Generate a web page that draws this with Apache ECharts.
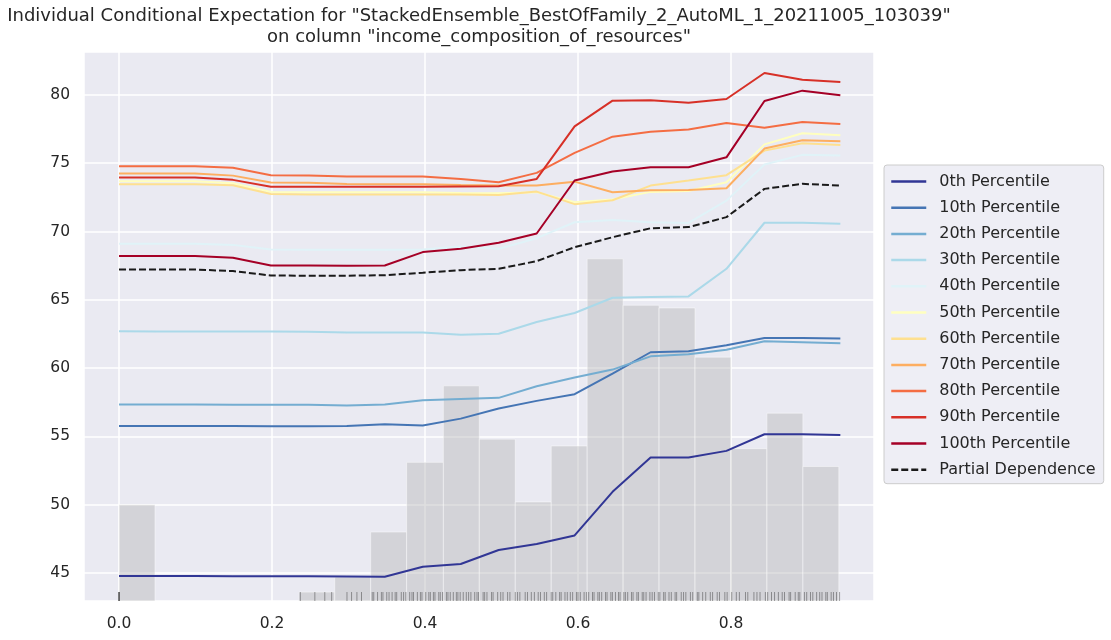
<!DOCTYPE html>
<html>
<head>
    <meta charset="utf-8">
    <title>ICE plot</title>
    <script src="https://cdn.jsdelivr.net/npm/echarts@6/dist/echarts.min.js"></script>
    <style>
        body { margin: 0; background: #fff; }
        #chart { width: 1111px; height: 640px; }
    </style>
</head>
<body>
<div id="chart"></div>

<script type="text/javascript">
// grid points of the feature (x)
var xGrid = [0, 0.0496, 0.0993, 0.1489, 0.1985, 0.2482, 0.2978, 0.3474, 0.3971, 0.4467,
             0.4963, 0.5460, 0.5956, 0.6452, 0.6949, 0.7445, 0.7941, 0.8438, 0.8934, 0.9430];

var seriesNames = ['0th Percentile', '10th Percentile', '20th Percentile', '30th Percentile',
    '40th Percentile', '50th Percentile', '60th Percentile', '70th Percentile',
    '80th Percentile', '90th Percentile', '100th Percentile', 'Partial Dependence'];

var p0   = [44.78, 44.78, 44.78, 44.77, 44.77, 44.76, 44.75, 44.73, 45.46, 45.66, 46.68, 47.12, 47.75, 50.94, 53.46, 53.46, 53.94, 55.16, 55.16, 55.11];
var p10  = [55.77, 55.77, 55.77, 55.76, 55.75, 55.75, 55.77, 55.89, 55.80, 56.30, 57.04, 57.60, 58.09, 59.60, 61.16, 61.23, 61.67, 62.20, 62.20, 62.16];
var p20  = [57.33, 57.33, 57.33, 57.32, 57.32, 57.31, 57.26, 57.33, 57.65, 57.74, 57.82, 58.67, 59.31, 59.89, 60.86, 61.01, 61.35, 61.96, 61.89, 61.81];
var p30  = [62.69, 62.68, 62.68, 62.67, 62.67, 62.66, 62.60, 62.60, 62.60, 62.45, 62.52, 63.37, 64.03, 65.15, 65.20, 65.25, 67.27, 70.64, 70.64, 70.56];
var p40  = [69.10, 69.10, 69.10, 69.02, 68.69, 68.66, 68.66, 68.66, 68.69, 68.90, 68.73, 69.51, 70.68, 70.85, 70.68, 70.63, 72.26, 74.90, 75.61, 75.56];
var p50  = [73.68, 73.68, 73.68, 73.53, 72.90, 72.88, 72.88, 72.88, 72.88, 72.82, 72.80, 72.88, 72.15, 72.34, 72.90, 72.97, 73.60, 76.38, 77.19, 77.04];
var p60  = [73.46, 73.46, 73.46, 73.38, 72.75, 72.70, 72.70, 72.70, 72.70, 72.70, 72.68, 72.92, 72.00, 72.29, 73.36, 73.73, 74.12, 75.92, 76.46, 76.34];
var p70  = [74.24, 74.24, 74.24, 74.09, 73.58, 73.56, 73.48, 73.46, 73.45, 73.40, 73.36, 73.36, 73.65, 72.87, 73.02, 73.04, 73.17, 76.07, 76.68, 76.60];
var p80  = [74.77, 74.77, 74.77, 74.66, 74.12, 74.10, 74.02, 74.02, 74.02, 73.85, 73.60, 74.29, 75.75, 76.94, 77.31, 77.46, 77.94, 77.60, 78.02, 77.87];
var p90  = [73.95, 73.95, 73.95, 73.78, 73.27, 73.27, 73.27, 73.27, 73.27, 73.30, 73.31, 73.85, 77.70, 79.58, 79.60, 79.43, 79.70, 81.60, 81.11, 80.94];
var p100 = [68.20, 68.20, 68.20, 68.08, 67.51, 67.51, 67.50, 67.51, 68.49, 68.73, 69.18, 69.85, 73.73, 74.39, 74.70, 74.70, 75.43, 79.55, 80.31, 79.97];
var pd   = [67.22, 67.22, 67.22, 67.10, 66.78, 66.76, 66.76, 66.80, 66.98, 67.17, 67.27, 67.83, 68.85, 69.58, 70.24, 70.32, 71.05, 73.12, 73.49, 73.36];

// histogram of the feature, drawn in y units (bin edges and bar tops)
var histEdges = [0, 0.047, 0.094, 0.141, 0.188, 0.235, 0.282, 0.329, 0.376, 0.424, 0.471,
                 0.518, 0.565, 0.612, 0.659, 0.706, 0.753, 0.800, 0.847, 0.894, 0.941];
var histTops = [50.0, null, null, null, null, 43.6, 44.7, 48.0, 53.1, 58.7,
                54.8, 50.2, 54.3, 68.0, 64.6, 64.4, 60.8, 54.1, 56.7, 52.8];

// rug (observed values of the feature)
var rugX = [0, 0, 0, 0,
    0.237, 0.256, 0.269, 0.278, 0.298, 0.304, 0.311, 0.317,
    0.331, 0.333, 0.338, 0.343, 0.345, 0.350, 0.353, 0.357, 0.361, 0.363, 0.369, 0.372, 0.375, 0.380,
    0.383, 0.385, 0.390, 0.394, 0.396, 0.401, 0.405, 0.407, 0.411, 0.413, 0.418, 0.420, 0.423, 0.428,
    0.430, 0.433, 0.437, 0.441, 0.443, 0.446, 0.450, 0.454, 0.457, 0.460, 0.465, 0.468, 0.470, 0.476,
    0.478, 0.481, 0.487, 0.489, 0.495, 0.499, 0.502, 0.508, 0.511, 0.518, 0.521, 0.524, 0.531, 0.534,
    0.539, 0.543, 0.548, 0.551, 0.556, 0.559, 0.565, 0.567, 0.571, 0.576, 0.578, 0.583, 0.586, 0.590,
    0.593, 0.598, 0.600, 0.603, 0.608, 0.611, 0.614, 0.619, 0.621, 0.626, 0.628, 0.631, 0.636, 0.638,
    0.643, 0.645, 0.649, 0.653, 0.655, 0.660, 0.662, 0.665, 0.670, 0.672, 0.677, 0.679, 0.684, 0.686,
    0.689, 0.694, 0.697, 0.700, 0.705, 0.707, 0.712, 0.714, 0.719, 0.722, 0.727, 0.729, 0.735, 0.738,
    0.741, 0.747, 0.750, 0.756, 0.758, 0.763, 0.767, 0.773, 0.776, 0.782, 0.785, 0.792, 0.795, 0.801,
    0.807, 0.811, 0.819, 0.822, 0.830, 0.834, 0.838, 0.845, 0.848, 0.853, 0.857, 0.862, 0.867, 0.870,
    0.876, 0.878, 0.884, 0.888, 0.890, 0.896, 0.899, 0.904, 0.907, 0.912, 0.916, 0.919, 0.924, 0.926,
    0.931, 0.934, 0.938, 0.942];

var lineColors = ['#313695', '#4575b4', '#74add1', '#abd9e9', '#e0f3f8', '#ffffbf',
                  '#fee090', '#fdae61', '#f46d43', '#d73027', '#a50026', '#1a1a1a'];
var allValues = [p0, p10, p20, p30, p40, p50, p60, p70, p80, p90, p100, pd];

var X_MIN = -0.0458, X_MAX = 0.987, Y_MIN = 42.95, Y_MAX = 83.14;
var FONT = 'DejaVu Sans';

var myChart = echarts.init(document.getElementById('chart'));

var histData = [];
for (var i = 0; i < histTops.length; i++) {
    if (histTops[i] != null) histData.push([histEdges[i], histEdges[i + 1], histTops[i]]);
}

var series = [{
    type: 'custom',
    name: 'hist',
    z: 1,
    silent: true,
    data: histData,
    renderItem: function (params, api) {
        var a = api.coord([api.value(0), api.value(2)]);
        var b = api.coord([api.value(1), Y_MIN]);
        return {
            type: 'rect',
            shape: { x: a[0], y: a[1], width: b[0] - a[0], height: b[1] - a[1] },
            style: { fill: 'rgba(178,178,182,0.42)', stroke: 'rgba(255,255,255,0.45)', lineWidth: 1 }
        };
    }
}, {
    type: 'custom',
    name: 'rug',
    z: 1,
    silent: true,
    data: rugX.map(function (v) { return [v]; }),
    renderItem: function (params, api) {
        var p = api.coord([api.value(0), Y_MIN]);
        return {
            type: 'line',
            shape: { x1: p[0], y1: p[1], x2: p[0], y2: p[1] - 9 },
            style: { stroke: 'rgba(0,0,0,0.35)', lineWidth: 1 }
        };
    }
}];

allValues.forEach(function (vals, idx) {
    series.push({
        type: 'line',
        name: seriesNames[idx],
        data: vals.map(function (v, k) { return [xGrid[k], v]; }),
        symbol: 'none',
        z: 3,
        lineStyle: {
            color: lineColors[idx],
            width: 2,
            type: idx === 11 ? [7, 3] : 'solid'
        },
        itemStyle: { color: lineColors[idx] }
    });
});

var option = {
    backgroundColor: '#ffffff',
    animation: false,
    textStyle: { fontFamily: FONT },
    grid: { left: 84, right: 237, top: 52, bottom: 39, backgroundColor: '#eaeaf2', show: true, borderWidth: 0 },
    graphic: [{
        type: 'text', x: 479, y: 16,
        style: { text: 'Individual Conditional Expectation for "StackedEnsemble_BestOfFamily_2_AutoML_1_20211005_103039"',
                 fontFamily: FONT, fontSize: 18, fill: '#262626', align: 'center', verticalAlign: 'middle' }
    }, {
        type: 'text', x: 479, y: 37,
        style: { text: 'on column "income_composition_of_resources"',
                 fontFamily: FONT, fontSize: 18, fill: '#262626', align: 'center', verticalAlign: 'middle' }
    }],
    legend: {
        orient: 'vertical',
        left: 884, top: 165,
        padding: [7.5, 8, 5, 6],
        itemWidth: 35, itemHeight: 12, itemGap: 8.2,
        backgroundColor: 'rgba(234,234,242,0.8)',
        borderColor: '#cccccc', borderWidth: 1, borderRadius: 3,
        itemStyle: { opacity: 0 },
        lineStyle: { width: 2.5 },
        textStyle: { fontFamily: FONT, fontSize: 16, color: '#262626', lineHeight: 18, padding: [0, 0, 0, 8] },
        data: seriesNames
    },
    xAxis: {
        type: 'value', min: X_MIN, max: X_MAX, splitNumber: 5,
        axisLine: { show: false }, axisTick: { show: false },
        axisLabel: { fontFamily: FONT, fontSize: 15.5, color: '#262626', margin: 15,
                     showMinLabel: false, showMaxLabel: false,
                     formatter: function (v) { return v.toFixed(1); } },
        splitLine: { show: true, lineStyle: { color: '#ffffff', width: 1.5 } }
    },
    yAxis: {
        type: 'value', min: Y_MIN, max: Y_MAX, splitNumber: 8, minInterval: 5, maxInterval: 5,
        axisLine: { show: false }, axisTick: { show: false },
        axisLabel: { fontFamily: FONT, fontSize: 15.5, color: '#262626', margin: 14,
                     showMinLabel: false, showMaxLabel: false,
                     formatter: function (v) { return String(Math.round(v)); } },
        splitLine: { show: true, lineStyle: { color: '#ffffff', width: 1.5 } }
    },
    series: series
};

myChart.setOption(option);
</script>
</body>
</html>
